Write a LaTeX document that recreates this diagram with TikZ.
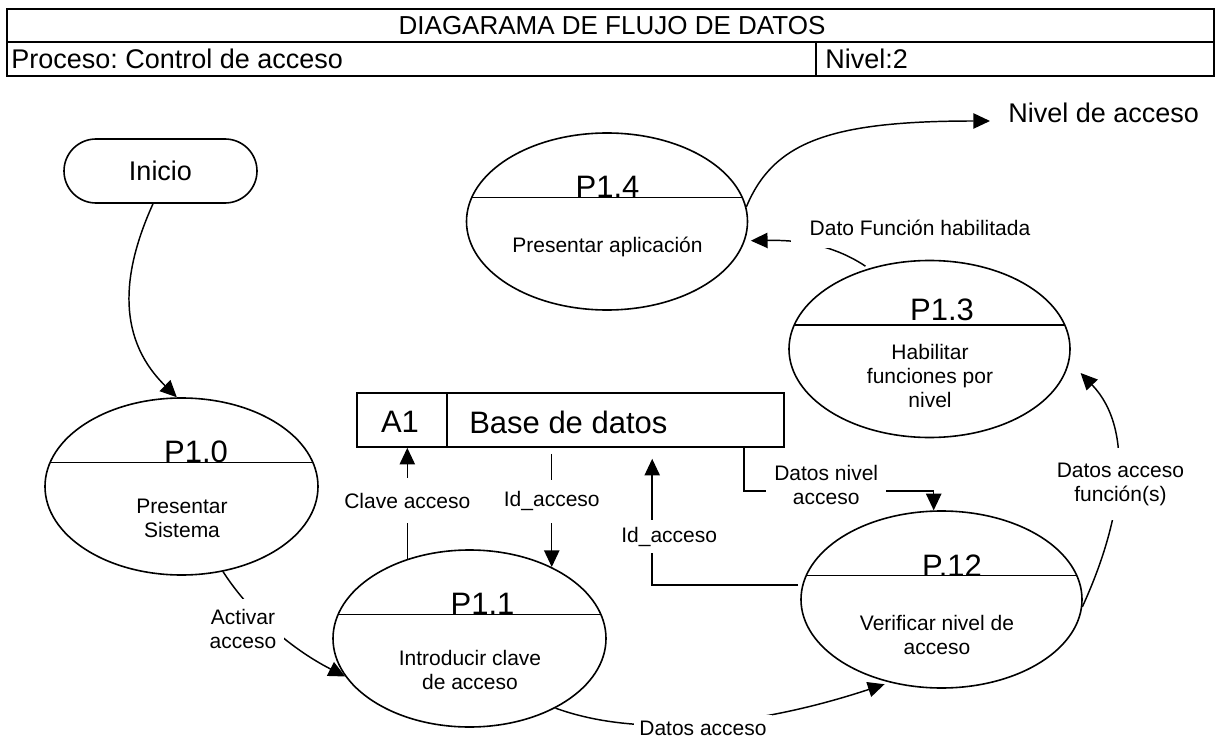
\documentclass[tikz,border=0pt]{standalone}
\usepackage{fontspec}
\setmainfont{Liberation Sans}
\usetikzlibrary{arrows.meta,calc,shapes.geometric}
\frenchspacing

\newcommand\fhead{\fontsize{19.5pt}{23pt}\selectfont}
\newcommand\fbig{\fontsize{20.25pt}{24pt}\selectfont}
\newcommand\fproc{\fontsize{23.25pt}{27pt}\selectfont}
\newcommand\fsmall{\fontsize{15.75pt}{18pt}\selectfont}

\begin{document}
\begin{tikzpicture}[x=0.75pt,y=-0.75pt,
  proc/.style={draw, ellipse, line width=1.2pt, inner sep=0pt, minimum height=132.75pt},
  narrowproc/.style={proc, minimum width=204.75pt},
  wideproc/.style={proc, minimum width=210.75pt},
  divider/.style={line width=1.2pt},
  plabel/.style={font=\fproc, anchor=base, inner sep=0pt},
  ptext/.style={font=\fsmall, align=center, inner sep=0pt},
  flow/.style={line width=1.1pt, -{Triangle[length=12.5pt,width=11.5pt]}},
  lbl/.style={fill=white, font=\fsmall, align=center, inner xsep=3pt},
  frame/.style={line width=1.5pt},
]
\useasboundingbox (0,0) rectangle (1221,738);

% title block
\draw[frame] (7,9) rectangle (1214,76);
\draw[frame] (7,42) -- (1214,42) (816,42) -- (816,76);
\node[font=\fhead] (title) at (612,25.5) {DIAGARAMA DE FLUJO DE DATOS};
\node[font=\fbig, anchor=west, inner sep=0pt] (proceso) at (11,59) {Proceso: Control de acceso};
\node[font=\fbig, anchor=west, inner sep=0pt] (nivelhdr) at (825,59) {Nivel:2};

% start terminal
\node[draw, line width=1.2pt, rounded corners=24pt, minimum width=144.75pt,
      minimum height=48pt, inner sep=0pt, font=\fbig] (inicio) at (160.5,171) {Inicio};

% processes
\node[narrowproc] (P10) at (181.5,486.5) {};
\draw[divider] (50.1,462.5) -- (312.9,462.5);
\node[plabel] (lP10) at (196,462.5) {P1.0};
\node[ptext] (tP10) at (182,518.5) {Presentar\\Sistema};

\node[narrowproc] (P11) at (469.5,638.5) {};
\draw[divider] (338.1,614.5) -- (600.9,614.5);
\node[plabel] (lP11) at (482.5,614.5) {P1.1};
\node[ptext] (tP11) at (470,669.5) {Introducir clave\\de acceso};

\node[wideproc] (P13) at (929.5,349) {};
\draw[divider] (794.3,325) -- (1064.7,325);
\node[plabel] (lP13) at (942,320) {P1.3};
\node[ptext] (tP13) at (930,376) {Habilitar\\funciones por\\nivel};

\node[wideproc] (P12) at (941.5,599.5) {};
\draw[divider] (806.3,575.5) -- (1076.7,575.5);
\node[plabel] (lP12) at (952,576) {P.12};
\node[ptext] (tP12) at (937,635) {Verificar nivel de\\acceso};

\node[wideproc] (P14) at (607,221.5) {};
\draw[divider] (472.3,197.5) -- (741.7,197.5);
\node[plabel] (lP14) at (607.5,197.5) {P1.4};
\node[ptext] (tP14) at (607.5,247) {Presentar aplicación};

% data store
\node[draw, line width=1.2pt, minimum width=320.25pt, minimum height=40.5pt, inner sep=0pt] (store) at (570.5,420) {};
\draw[line width=1.2pt] ($(store.north west)+(91,0)$) -- ($(store.south west)+(91,0)$);
\node[font=\fproc, inner sep=0pt] (a1) at (400,422) {A1};
\node[font=\fproc, anchor=west, inner sep=0pt] (bd) at (469,422) {Base de datos};

% output label
\node[font=\fbig, anchor=west, inner sep=0pt] (nivel) at (1008,113) {Nivel de acceso};
\coordinate (outtip) at ($(nivel.west)+(-18,8)$);

% data flows
\draw[flow] ($(inicio.south)+(-7.5,0)$) .. controls +(-28,62) and +(-64,-63) .. (P10.93.6);

\draw[flow] (P10.-64.4) .. controls +(27,42) and +(-53,-27) .. (P11.-163.1);
\node[lbl, inner xsep=6pt, inner ysep=7.5pt] (actlbl) at (243,628.5) {Activar\\acceso};

\draw[flow] (P11.128.5) -- node[lbl, pos=0.525, inner ysep=11pt] (clavelbl) {Clave acceso} (P11.128.5 |- store.south);

\draw[flow] ($(store.south -| P11.41.6)+(0,6)$) -- node[lbl, pos=0.42, inner ysep=9pt] (idlbla) {Id\_acceso} (P11.41.6);

\draw[flow, shorten <=3pt, shorten >=8.25pt] (P12.174) -| node[lbl, pos=0.676, xshift=12.75pt, inner ysep=5pt] (idlblb) {Id\_acceso} ($(store.south west)+(296,0)$);

\draw[flow] ($(store.south east)+(-41,0)$) -- ++(0,43) -| node[lbl, pos=0.217, yshift=4pt, inner xsep=6pt, inner ysep=1pt] (nivlbl) {Datos nivel\\acceso} (P12.95);

\draw[flow, shorten >=4pt] (P11.-39.5) .. controls +(85,31) and +(-130,43) .. (P12.-122);
\node[lbl, inner xsep=4pt, inner ysep=4.5pt] (dalbl) at (703,728) {Datos acceso};

\draw[flow] (P12.-3) .. controls +(40,-87) and +(55,57) .. node[lbl, pos=0.5, xshift=2.5pt, yshift=-4pt, inner ysep=11pt] (fnslbl) {Datos acceso\\función(s)} ($(P13.-10)+(15,0)$);

\draw[flow, shorten <=3pt, shorten >=4.5pt] (P13.127) .. controls +(-39,-26) and +(47,-1) .. (P14.-8.6);
\node[lbl, inner xsep=14pt, inner ysep=9pt] (fnlbl) at (920,228) {Dato Función habilitada};

\draw[flow] (P14.6.8) .. controls +(27,-65) and +(-160,0) .. (outtip);

\end{tikzpicture}
\end{document}
